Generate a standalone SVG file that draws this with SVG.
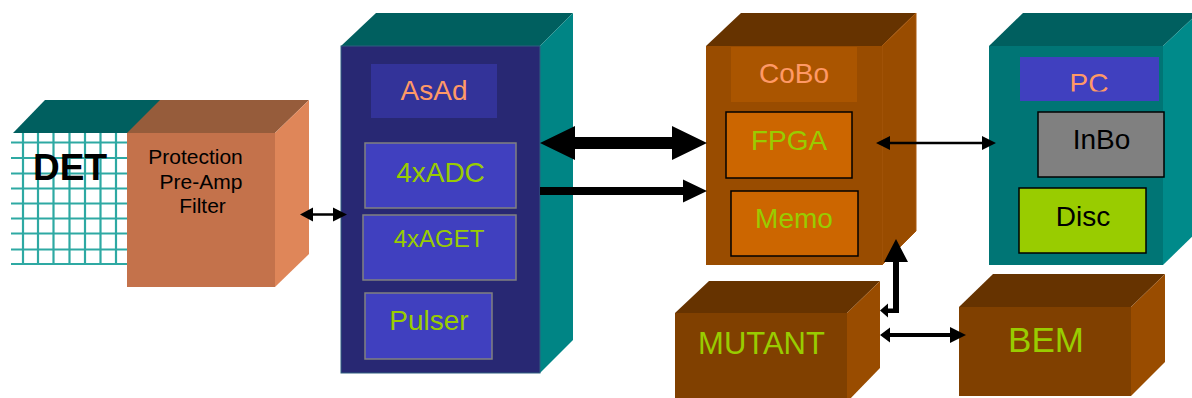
<svg xmlns="http://www.w3.org/2000/svg" width="1192" height="398" viewBox="0 0 1192 398">
  <style>
    text { font-family: "Liberation Sans", Arial, sans-serif; text-anchor: middle; }
    .lbl { font-size: 28px; }
    .salmon { fill: #ff9966; }
    .green { fill: #99cc00; }
    .dark { fill: #000000; }
    .grid line { stroke: #2ea9a3; stroke-width: 2.2; }
    .sub { fill: #4040bf; stroke: #808080; stroke-width: 1.5; }
    .sub2 { fill: #cc6600; stroke: #000000; stroke-width: 1.5; }
    .arrow { fill: #000000; }
  </style>
  <defs>
    <clipPath id="pcClip">
      <rect x="1020" y="57" width="139" height="34.5"/>
    </clipPath>
  </defs>

  <rect width="1192" height="398" fill="#ffffff"/>

  <!-- Detector: grid face with dark top -->
  <g id="det">
    <polygon points="13,133 45,100 162,100 130,133" fill="#005f5f"/>
    <g class="grid">
      <line x1="23" y1="133" x2="23" y2="265"/>
      <line x1="38" y1="133" x2="38" y2="265"/>
      <line x1="53.5" y1="133" x2="53.5" y2="265"/>
      <line x1="69.5" y1="133" x2="69.5" y2="265"/>
      <line x1="85" y1="133" x2="85" y2="265"/>
      <line x1="100.5" y1="133" x2="100.5" y2="265"/>
      <line x1="116" y1="133" x2="116" y2="265"/>
      <line x1="11" y1="142.5" x2="127" y2="142.5"/>
      <line x1="11" y1="158" x2="127" y2="158"/>
      <line x1="11" y1="173.5" x2="127" y2="173.5"/>
      <line x1="11" y1="188.5" x2="127" y2="188.5"/>
      <line x1="11" y1="203.5" x2="127" y2="203.5"/>
      <line x1="11" y1="218.5" x2="127" y2="218.5"/>
      <line x1="11" y1="233.5" x2="127" y2="233.5"/>
      <line x1="11" y1="249.5" x2="127" y2="249.5"/>
      <line x1="11" y1="264" x2="127" y2="264"/>
    </g>
    <text x="70" y="180" font-size="37" font-weight="bold" class="dark">DET</text>
  </g>

  <!-- Protection / Pre-Amp / Filter block -->
  <g id="preamp">
    <polygon points="127,133 160,100 309,100 275,133" fill="#965c3b"/>
    <polygon points="275,133 309,100 309,254 275,287" fill="#df8659"/>
    <rect x="127" y="133" width="148" height="154" fill="#c4724b"/>
    <text x="195.5" y="164" font-size="21" class="dark">Protection</text>
    <text x="201" y="189" font-size="21" class="dark">Pre-Amp</text>
    <text x="202.5" y="213" font-size="21" class="dark">Filter</text>
  </g>

  <!-- AsAd board -->
  <g id="asad">
    <polygon points="341,46 376,13 573,13 540,46" fill="#005f5f"/>
    <polygon points="540,46 573,13 573,340 540,373" fill="#008585"/>
    <rect x="341" y="46" width="199" height="327" fill="#282873" stroke="#2f5f80" stroke-width="1"/>
    <rect x="371" y="64" width="126" height="54" fill="#333399"/>
    <text x="434" y="100" class="lbl salmon">AsAd</text>
    <rect x="365" y="143" width="151" height="65" class="sub"/>
    <text x="440.5" y="182" class="lbl green">4xADC</text>
    <rect x="363" y="215" width="153" height="65" class="sub"/>
    <text x="439" y="247" font-size="24" class="green">4xAGET</text>
    <rect x="365" y="293" width="127" height="66" class="sub"/>
    <text x="429" y="330" class="lbl green">Pulser</text>
  </g>

  <!-- CoBo board -->
  <g id="cobo">
    <polygon points="706,46 741,13 916,13 882,46" fill="#663300"/>
    <polygon points="882,46 916,13 916,231 882,265" fill="#994c00" stroke="#a8590f" stroke-width="1"/>
    <rect x="706" y="46" width="176" height="219" fill="#994c00"/>
    <rect x="731" y="47" width="126" height="55" fill="#aa5500"/>
    <text x="794" y="83" class="lbl salmon">CoBo</text>
    <rect x="726" y="112" width="126" height="66" class="sub2"/>
    <text x="789" y="150" class="lbl green">FPGA</text>
    <rect x="731" y="191" width="127" height="65" class="sub2"/>
    <text x="794" y="228" class="lbl green">Memo</text>
  </g>

  <!-- PC -->
  <g id="pc">
    <polygon points="989,46 1023,13 1198,13 1163,46" fill="#005f5f"/>
    <polygon points="1163,46 1198,13 1198,231 1163,265" fill="#008a8a"/>
    <rect x="989" y="46" width="174" height="219" fill="#007575"/>
    <rect x="1020" y="57" width="139" height="44" fill="#4040bf"/>
    <text x="1089" y="93" class="lbl salmon" clip-path="url(#pcClip)">PC</text>
    <rect x="1038" y="112" width="126" height="65" fill="#808080" stroke="#000000" stroke-width="1.5"/>
    <text x="1101.5" y="149" class="lbl dark">InBo</text>
    <rect x="1019" y="188" width="127" height="65" fill="#99cc00" stroke="#000000" stroke-width="1.5"/>
    <text x="1083" y="226" class="lbl dark">Disc</text>
  </g>

  <!-- MUTANT -->
  <g id="mutant">
    <polygon points="675,313 709,281 880,281 847,313" fill="#663300"/>
    <polygon points="847,313 880,281 880,368 847,402" fill="#994c00"/>
    <rect x="675" y="313" width="172" height="90" fill="#804000"/>
    <text x="761.5" y="354" font-size="31" class="green">MUTANT</text>
  </g>

  <!-- BEM -->
  <g id="bem">
    <polygon points="959,307 993,274 1165,274 1131,307" fill="#663300"/>
    <polygon points="1131,307 1165,274 1165,362 1131,396" fill="#994c00"/>
    <rect x="959" y="307" width="172" height="89" fill="#804000"/>
    <text x="1046" y="352" font-size="35" class="green">BEM</text>
  </g>

  <!-- Links between blocks -->
  <g id="connectors">
    <!-- preamp <-> AsAd -->
    <polygon class="arrow" points="300,214.5 313,207.5 313,213.3 333,213.3 333,207.5 347,214.5 333,221.5 333,215.7 313,215.7 313,221.5"/>
    <!-- AsAd <-> CoBo, wide bus -->
    <polygon class="arrow" points="540,143 575,126 575,137 672,137 672,126 707,143 672,160 672,149 575,149 575,160"/>
    <!-- AsAd -> CoBo -->
    <polygon class="arrow" points="540,187 683,187 683,179.5 707,191 683,202.5 683,195 540,195"/>
    <!-- CoBo <-> PC -->
    <polygon class="arrow" points="876,143 890,136 890,141.7 982,141.7 982,136 996,143 982,150 982,144.3 890,144.3 890,150"/>
    <!-- MUTANT <-> CoBo (elbow) -->
    <polygon class="arrow" points="880,310.5 888,303.5 888,308.5 893,308.5 893,262 884,262 896,239 908,262 899,262 899,313 888,313 888,317.5"/>
    <!-- MUTANT <-> BEM -->
    <polygon class="arrow" points="880,335 890,327.5 890,333 950,333 950,327 966,335 950,343 950,337 890,337 890,342.5"/>
  </g>
</svg>
